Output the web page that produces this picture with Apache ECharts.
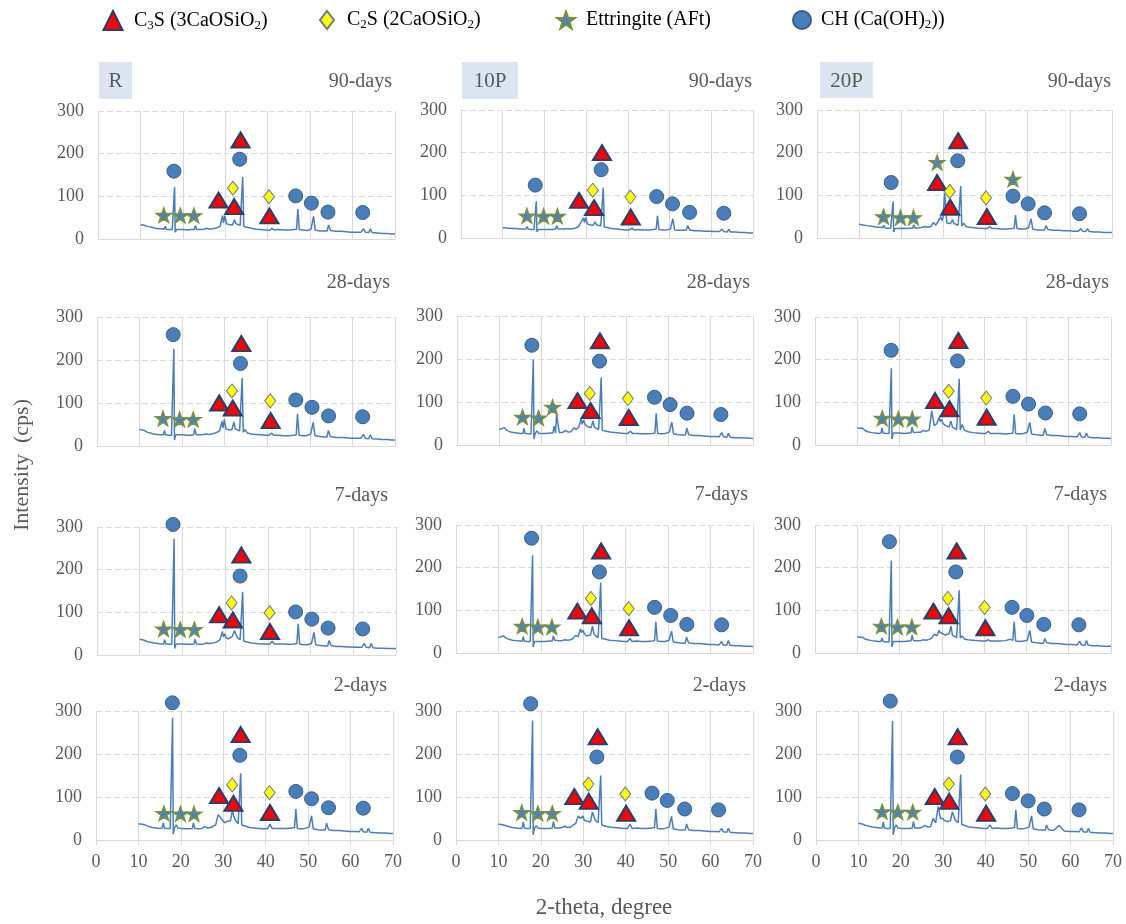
<!DOCTYPE html>
<html>
<head>
<meta charset="utf-8">
<script src="https://cdn.jsdelivr.net/npm/echarts@6/dist/echarts.min.js"></script>
<style>
  html, body { margin: 0; padding: 0; background: #ffffff; }
  #chart { width: 1126px; height: 924px; }
</style>
</head>
<body>
<div id="chart"></div>
<script>
// ---- 2-theta sampling positions (degrees) shared by all diffractograms ----
const twoTheta = [10,10.6,11.2,11.8,12.5,13.3,14.2,15.0,15.6,15.85,
  16.1,16.8,17.5,17.9,18.05,18.2,18.5,18.95,19.3,20.2,
  21.1,22.0,22.7,22.95,23.3,23.55,24.2,25.0,25.6,26.3,
  27.0,27.6,28.2,28.8,29.35,29.6,29.9,30.3,30.8,31.2,
  31.7,32.15,32.5,32.9,33.5,33.85,34.1,34.35,34.8,35.3,
  36.2,37.3,38.4,39.5,40.4,41.0,41.5,42.6,43.8,45.0,
  46.2,46.8,47.1,47.45,48.3,49.3,50.2,50.8,51.2,52.3,
  53.5,54.0,54.35,54.8,56.0,57.3,58.5,59.7,60.9,62.0,
  62.6,63.0,63.8,64.2,64.6,65.8,67.0,68.2,69.2,70];

const yTicks = [0, 100, 200, 300];
const xTicks = [0, 10, 20, 30, 40, 50, 60, 70];

// ---- intensity (cps) at each 2-theta position ----
const R_90 = [34,33,31,29,28,26,24,24,23,30,
  23,22,22,24,122,16,22,26,22,22,
  21,22,22,31,22,23,22,23,25,23,
  24,25,27,30,55,38,55,36,34,36,
  33,45,36,33,32,30,145,30,34,27,
  25,23,22,21,20,25,21,22,21,21,
  22,23,70,22,21,20,23,53,21,19,
  19,19,33,20,18,18,17,16,16,16,
  24,16,15,24,15,14,13,13,12,12];
const P10_90 = [24,24,23,23,22,22,21,21,21,27,
  21,20,20,22,86,14,20,24,20,20,
  20,20,21,29,21,22,21,21,22,21,
  22,24,27,38,47,36,48,33,31,32,
  30,38,31,29,28,27,118,26,29,24,
  22,21,20,19,19,23,19,20,19,19,
  20,21,52,20,19,19,21,45,19,18,
  18,18,29,19,17,17,16,16,15,15,
  21,15,14,21,14,14,13,13,12,12];
const P20_90 = [32,31,30,29,28,27,25,25,24,30,
  24,23,23,25,86,14,22,26,22,23,
  22,23,23,31,23,24,24,25,27,25,
  27,36,30,40,50,40,48,105,35,37,
  34,43,34,31,30,29,122,28,35,27,
  25,24,23,22,22,27,22,22,21,21,
  22,23,54,22,21,21,24,45,21,19,
  19,19,29,20,18,18,17,17,16,16,
  22,16,15,22,15,14,14,13,13,13];
const R_28 = [39,37,36,32,30,28,27,26,26,36,
  26,25,25,28,226,14,26,30,26,26,
  25,25,26,40,26,26,26,27,28,27,
  28,30,32,35,57,42,62,40,38,40,
  38,56,40,37,35,33,158,32,38,30,
  28,27,26,25,25,30,25,25,24,24,
  25,26,75,25,24,24,28,55,24,22,
  21,21,36,22,20,20,19,18,18,18,
  27,18,17,26,17,16,15,15,14,14];
const P10_28 = [36,38,40,34,31,29,28,27,27,39,
  27,26,26,29,199,14,27,33,27,27,
  27,28,28,44,28,71,29,29,34,30,
  31,40,36,42,61,48,58,48,43,44,
  40,56,41,38,36,35,157,34,37,32,
  30,29,28,27,27,32,27,27,26,26,
  27,28,74,27,26,27,30,53,26,24,
  23,23,39,24,22,22,21,20,20,19,
  29,19,18,27,18,17,17,16,16,15];
const P20_28 = [39,39,40,34,31,29,28,27,28,40,
  28,27,27,30,180,14,28,32,28,28,
  27,28,28,42,29,30,30,30,34,32,
  35,80,45,50,65,55,60,50,46,43,
  42,56,42,38,36,36,155,35,48,35,
  31,29,28,27,27,32,27,27,27,26,
  27,28,72,27,26,27,30,53,26,24,
  23,23,39,24,22,22,21,20,20,19,
  29,19,18,28,18,17,17,16,16,15];
const R_7 = [37,36,34,31,30,28,27,26,26,36,
  26,25,25,28,273,15,26,30,26,26,
  25,25,26,37,26,26,25,26,28,27,
  28,29,32,36,55,42,50,40,38,40,
  44,57,50,40,36,34,148,32,36,30,
  28,27,26,26,25,32,26,26,26,25,
  26,27,73,25,24,24,27,53,24,22,
  21,21,34,22,20,20,19,19,18,18,
  27,18,17,27,17,16,16,15,15,15];
const P10_7 = [36,38,40,35,32,30,29,28,28,38,
  28,27,27,29,229,14,27,30,27,27,
  27,28,28,40,30,29,29,29,31,30,
  31,34,42,38,57,48,53,45,40,40,
  42,63,45,40,36,35,165,34,36,32,
  30,29,28,27,27,34,27,28,27,27,
  28,29,73,28,27,27,30,51,26,24,
  23,23,37,24,22,22,21,20,20,19,
  27,19,18,29,18,17,17,16,16,15];
const P20_7 = [38,37,37,33,31,29,28,27,27,35,
  27,26,26,28,217,14,27,30,27,27,
  27,28,28,42,29,29,29,29,31,30,
  32,35,44,40,53,48,52,45,42,40,
  45,63,42,38,36,35,147,35,40,33,
  31,30,29,28,28,31,28,28,28,29,
  32,30,73,28,27,28,30,53,26,24,
  23,23,34,24,22,22,21,20,20,19,
  28,19,18,29,18,17,17,16,16,16];
const R_2 = [37,37,36,34,31,29,28,27,28,40,
  28,27,27,30,284,14,28,35,28,27,
  26,26,27,40,27,26,26,27,31,28,
  29,32,35,59,53,48,45,40,43,40,
  45,68,55,45,38,36,155,35,39,32,
  29,28,27,26,26,37,27,27,27,27,
  28,29,72,27,26,27,30,56,26,24,
  23,23,39,24,22,22,21,20,20,19,
  27,19,18,27,18,17,16,16,15,15];
const P10_2 = [37,36,35,33,31,29,28,27,28,42,
  28,27,27,30,278,12,28,33,28,27,
  27,27,28,43,28,28,28,29,32,29,
  30,35,38,56,50,52,56,45,44,43,
  42,65,55,45,40,37,150,35,38,32,
  30,29,28,27,27,37,27,28,27,27,
  28,29,72,27,26,27,30,55,26,24,
  23,23,37,24,22,22,21,20,20,19,
  27,19,18,27,18,17,16,16,15,15];
const P20_2 = [39,38,36,34,32,30,29,28,28,42,
  28,27,27,30,277,12,28,35,28,27,
  27,27,28,43,28,28,28,29,34,30,
  31,50,40,78,50,48,50,45,43,42,
  45,66,55,45,40,37,152,36,40,33,
  30,29,28,27,27,35,27,28,27,27,
  28,29,70,27,26,27,30,56,26,24,
  23,23,35,24,22,34,21,20,20,19,
  28,19,18,27,18,17,16,16,15,15];

// ---- phase markers: [2-theta, marker height] ----
const R90_C3S = [[28.4,91],[32.1,76],[33.6,232],[40.4,54]];
const R90_C2S = [[31.8,119],[40.3,99]];
const R90_AFT = [[15.5,56],[19.4,55],[22.6,55]];
const R90_CH  = [[17.9,159],[33.4,187],[46.6,101],[50.3,84],[54.2,63],[62.4,62]];

const P10_90_C3S = [[28.3,88],[31.9,71],[33.8,200],[40.7,49]];
const P10_90_C2S = [[31.6,112],[40.6,96]];
const P10_90_AFT = [[15.8,52],[19.8,51],[23.1,51]];
const P10_90_CH  = [[17.8,124],[33.6,160],[46.9,97],[50.7,80],[54.8,60],[63.0,58]];

const P20_90_C3S = [[28.5,130],[31.6,72],[33.5,228],[40.3,50]];
const P20_90_C2S = [[31.5,109],[40.1,94]];
const P20_90_AFT = [[15.8,50],[19.8,48],[22.9,48],[28.5,177],[46.5,138]];
const P20_90_CH  = [[17.6,130],[33.4,181],[46.5,98],[50.1,80],[54.0,59],[62.3,57]];

const R28_C3S = [[28.7,100],[31.9,88],[33.9,238],[40.8,59]];
const R28_C2S = [[31.7,128],[40.7,105]];
const R28_AFT = [[15.5,64],[19.4,62],[22.6,62]];
const R28_CH  = [[17.9,259],[33.7,192],[46.7,107],[50.5,90],[54.4,70],[62.4,68]];

const P10_28_C3S = [[28.5,103],[31.6,80],[33.8,242],[40.6,64]];
const P10_28_C2S = [[31.4,120],[40.4,108]];
const P10_28_AFT = [[15.5,65],[19.3,63],[22.6,88]];
const P10_28_CH  = [[17.7,232],[33.7,195],[46.7,111],[50.4,94],[54.4,74],[62.4,71]];

const P20_28_C3S = [[28.4,104],[31.8,85],[33.9,245],[40.6,65]];
const P20_28_C2S = [[31.6,126],[40.5,110]];
const P20_28_AFT = [[15.9,63],[19.7,61],[23.0,61]];
const P20_28_CH  = [[18.0,222],[33.7,197],[46.8,114],[50.5,96],[54.5,75],[62.6,73]];

const R7_C3S = [[28.6,94],[31.8,82],[33.8,234],[40.5,55]];
const R7_C2S = [[31.5,122],[40.4,99]];
const R7_AFT = [[15.6,61],[19.5,60],[22.8,60]];
const R7_CH  = [[17.8,306],[33.5,185],[46.5,101],[50.3,84],[54.1,63],[62.2,61]];

const P10_7_C3S = [[28.6,98],[32.0,87],[34.2,239],[40.8,59]];
const P10_7_C2S = [[31.8,128],[40.7,104]];
const P10_7_AFT = [[15.6,63],[19.3,61],[22.6,61]];
const P10_7_CH  = [[17.8,269],[33.8,190],[46.8,107],[50.6,88],[54.4,67],[62.6,66]];

const P20_7_C3S = [[28.0,98],[31.6,87],[33.5,239],[40.3,59]];
const P20_7_C2S = [[31.4,128],[40.1,107]];
const P20_7_AFT = [[15.7,63],[19.5,61],[22.9,61]];
const P20_7_CH  = [[17.6,261],[33.3,190],[46.6,107],[50.1,88],[54.1,67],[62.4,66]];

const R2_C3S = [[29.0,103],[32.4,85],[34.1,245],[41.0,64]];
const R2_C2S = [[32.1,128],[40.9,110]];
const R2_AFT = [[16.0,62],[19.9,61],[23.1,61]];
const R2_CH  = [[18.0,319],[33.9,197],[47.1,113],[50.8,96],[54.8,75],[63.0,74]];

const P10_2_C3S = [[27.9,101],[31.3,90],[33.4,240],[40.1,62]];
const P10_2_C2S = [[31.2,130],[39.9,107]];
const P10_2_AFT = [[15.5,64],[19.3,62],[22.7,62]];
const P10_2_CH  = [[17.6,317],[33.2,193],[46.2,109],[49.8,92],[53.9,72],[61.9,70]];

const P20_2_C3S = [[28.0,101],[31.4,90],[33.4,240],[40.1,62]];
const P20_2_C2S = [[31.3,130],[39.9,107]];
const P20_2_AFT = [[15.6,66],[19.3,65],[22.8,65]];
const P20_2_CH  = [[17.5,323],[33.3,193],[46.3,108],[50.0,91],[53.8,72],[62.0,70]];

const mixes = ['R', '10P', '20P'];
const ages = ['90-days', '28-days', '7-days', '2-days'];

// panels in reading order (rows = curing age, columns = mix)
const panels = [
  { y: R_90,   c3s: R90_C3S,    c2s: R90_C2S,    aft: R90_AFT,    ch: R90_CH },
  { y: P10_90, c3s: P10_90_C3S, c2s: P10_90_C2S, aft: P10_90_AFT, ch: P10_90_CH },
  { y: P20_90, c3s: P20_90_C3S, c2s: P20_90_C2S, aft: P20_90_AFT, ch: P20_90_CH },
  { y: R_28,   c3s: R28_C3S,    c2s: R28_C2S,    aft: R28_AFT,    ch: R28_CH },
  { y: P10_28, c3s: P10_28_C3S, c2s: P10_28_C2S, aft: P10_28_AFT, ch: P10_28_CH },
  { y: P20_28, c3s: P20_28_C3S, c2s: P20_28_C2S, aft: P20_28_AFT, ch: P20_28_CH },
  { y: R_7,    c3s: R7_C3S,     c2s: R7_C2S,     aft: R7_AFT,     ch: R7_CH },
  { y: P10_7,  c3s: P10_7_C3S,  c2s: P10_7_C2S,  aft: P10_7_AFT,  ch: P10_7_CH },
  { y: P20_7,  c3s: P20_7_C3S,  c2s: P20_7_C2S,  aft: P20_7_AFT,  ch: P20_7_CH },
  { y: R_2,    c3s: R2_C3S,     c2s: R2_C2S,     aft: R2_AFT,     ch: R2_CH },
  { y: P10_2,  c3s: P10_2_C3S,  c2s: P10_2_C2S,  aft: P10_2_AFT,  ch: P10_2_CH },
  { y: P20_2,  c3s: P20_2_C3S,  c2s: P20_2_C2S,  aft: P20_2_AFT,  ch: P20_2_CH }
];

// ---- layout (pixels) ----
const plotBoxes = [ // left, top, right, bottom
  [98,111,395,239], [461,110,753,238], [817,110,1112,238],
  [97,317,395,446], [457,316,753,445], [815,317,1111,445],
  [97,527,396,655], [456,525,753,653], [815,525,1111,653],
  [96,711,393,840], [456,711,753,840], [816,711,1113,840]
];
const agePos = [ // right edge, vertical centre of the age caption
  [392,82],[752,82],[1111,82],
  [390,283],[750,283],[1109,283],
  [388,496],[748,495],[1107,495],
  [387,686],[746,686],[1107,686]
];
const tagBoxes = [[99,62,33,37],[462,62,56,37],[820,62,53,36]];

const FONT = 'Liberation Serif';
const TXT = '#595959';
const GRID_C = '#d9d9d9';
const LINE_C = '#4a7ebb';
const STAR = 'path://M50 0 L61.76 33.82 L97.55 34.55 L69.02 56.18 L79.39 90.45 L50 70 L20.61 90.45 L30.98 56.18 L2.45 34.55 L38.24 33.82 Z';

const markerStyle = {
  C3S: { symbol: 'triangle', symbolSize: [18, 15], itemStyle: { opacity: 1, color: '#ff0000', borderColor: '#24406e', borderWidth: 2 } },
  C2S: { symbol: 'diamond', symbolSize: [11, 14], itemStyle: { opacity: 1, color: '#ffff00', borderColor: '#6b7890', borderWidth: 1 } },
  AFt: { symbol: STAR, symbolSize: 15, symbolKeepAspect: true, itemStyle: { opacity: 1, color: '#4f81bd', borderColor: '#77933c', borderWidth: 1.5 } },
  CH:  { symbol: 'circle', symbolSize: 14, itemStyle: { opacity: 1, color: '#4a7ebb', borderColor: '#385d8a', borderWidth: 1 } }
};

const grids = [], xAxes = [], yAxes = [], series = [], graphics = [];

panels.forEach((p, i) => {
  const [l, t, r, b] = plotBoxes[i];
  const bottomRow = i >= 9;
  grids.push({ left: l, top: t, width: r - l, height: b - t });
  xAxes.push({
    gridIndex: i, type: 'value', min: xTicks[0], max: xTicks[xTicks.length - 1], interval: 10,
    axisLine: { show: true, lineStyle: { color: GRID_C, width: 1 } },
    axisTick: { show: bottomRow, length: 5, lineStyle: { color: GRID_C } },
    axisLabel: { show: bottomRow, color: TXT, fontFamily: FONT, fontSize: 18, margin: 13 },
    splitLine: { show: true, lineStyle: { color: GRID_C, width: 1 } }
  });
  yAxes.push({
    gridIndex: i, type: 'value', min: yTicks[0], max: yTicks[yTicks.length - 1], interval: 100,
    axisLine: { show: false }, axisTick: { show: false },
    axisLabel: { color: TXT, fontFamily: FONT, fontSize: 18, margin: 14 },
    splitLine: { show: true, lineStyle: { color: GRID_C, width: 1, type: [6, 3] } }
  });
  series.push({
    type: 'line', xAxisIndex: i, yAxisIndex: i, silent: true, z: 2,
    showSymbol: false, symbol: 'none',
    lineStyle: { color: LINE_C, width: 1.5 },
    data: twoTheta.map((tt, k) => [tt, p.y[k]])
  });
  [['C3S', p.c3s], ['C2S', p.c2s], ['AFt', p.aft], ['CH', p.ch]].forEach(([name, pts]) => {
    series.push(Object.assign({
      type: 'scatter', name: name, xAxisIndex: i, yAxisIndex: i, z: 5,
      clip: false, silent: true, data: pts
    }, markerStyle[name]));
  });
  const [ax, ay] = agePos[i];
  graphics.push({
    type: 'text', x: ax, y: ay, silent: true,
    style: { text: ages[Math.floor(i / 3)], fill: TXT, font: '20px "' + FONT + '"', align: 'right', verticalAlign: 'middle' }
  });
});

mixes.forEach((m, c) => {
  const [x, y, w, h] = tagBoxes[c];
  graphics.push({ type: 'rect', shape: { x: x, y: y, width: w, height: h }, style: { fill: '#dce6f2' }, silent: true });
  graphics.push({
    type: 'text', x: x + w / 2, y: y + h / 2 + 1, silent: true,
    style: { text: m, fill: TXT, font: '21px "' + FONT + '"', align: 'center', verticalAlign: 'middle' }
  });
});

graphics.push({
  type: 'text', x: 22, y: 465, rotation: Math.PI / 2, silent: true,
  style: { text: 'Intensity  (cps)', fill: TXT, font: '22px "' + FONT + '"', align: 'center', verticalAlign: 'middle' }
});
graphics.push({
  type: 'text', x: 604, y: 908, silent: true,
  style: { text: '2-theta, degree', fill: TXT, font: '23px "' + FONT + '"', align: 'center', verticalAlign: 'middle' }
});

// ---- legend ----
const legendLabels = {
  C3S: '{p|}{n|C}{s|3}{n|S (3CaOSiO}{s|2}{n|)}',
  C2S: '{p|}{n|C}{s|2}{n|S (2CaOSiO}{s|2}{n|)}',
  AFt: '{p|}{n|Ettringite (AFt)}',
  CH:  '{p|}{n|CH (Ca(OH)}{s|2}{n|))}'
};
const legendItems = [ // name, icon, icon centre x, icon w, icon h, text start x
  ['C3S', 'triangle', 112, 19, 19, 133],
  ['C2S', 'diamond', 326, 14, 18, 346],
  ['AFt', STAR, 565, 18, 18, 585],
  ['CH', 'circle', 801, 18, 18, 820]
];
const legends = legendItems.map(([name, icon, cx, w, h, tx]) => {
  const left = cx - w / 2;
  const pad = tx - left - w - 5;
  return {
    show: true, left: left, top: 10, padding: 0, itemWidth: w, itemHeight: h,
    selectedMode: false,
    data: [{ name: name, icon: icon }],
    formatter: () => legendLabels[name],
    textStyle: {
      color: '#000000', fontFamily: FONT, fontSize: 20,
      rich: {
        p: { width: pad },
        n: { fontFamily: FONT, fontSize: 20, color: '#000000' },
        s: { fontFamily: FONT, fontSize: 13, color: '#000000', padding: [10, 0, 0, 0] }
      }
    }
  };
});

const chart = echarts.init(document.getElementById('chart'), null, { renderer: 'canvas' });
chart.setOption({
  backgroundColor: '#ffffff',
  animation: false,
  grid: grids,
  xAxis: xAxes,
  yAxis: yAxes,
  legend: legends,
  series: series,
  graphic: graphics
});
</script>
</body>
</html>
